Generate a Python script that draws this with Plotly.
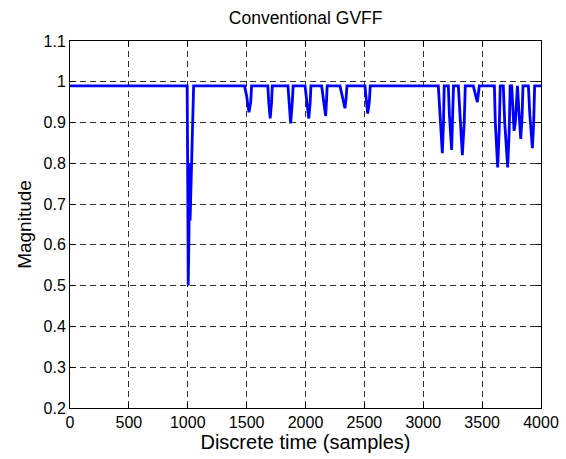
import plotly.graph_objects as go

# Forgetting-factor trace: breakpoints (sample index, magnitude)
samples = [
    0, 995, 1000, 1004, 1010, 1016, 1020, 1026, 1032, 1038, 1046, 1050,
    1482, 1500, 1520, 1535, 1542,
    1680, 1688, 1700, 1712, 1718,
    1851, 1860, 1874, 1888, 1895,
    1996, 2008, 2028, 2040, 2046,
    2137, 2150, 2171, 2178, 2184,
    2293, 2310, 2335, 2345, 2352,
    2505, 2515, 2528, 2542, 2550,
    3128, 3140, 3162, 3172, 3178,
    3213, 3222, 3241, 3250, 3257,
    3298, 3310, 3332, 3348, 3357,
    3425, 3440, 3459, 3468, 3476,
    3604, 3612, 3632, 3645, 3654,
    3680, 3692, 3717, 3730, 3738,
    3751, 3760, 3771, 3782, 3790, 3800, 3812, 3828, 3840, 3847,
    3893, 3905, 3927, 3938, 3946,
    4000,
]
magnitude = [
    0.99, 0.99, 0.75, 0.50, 0.62, 0.80, 0.66, 0.74, 0.78, 0.86, 0.97, 0.99,
    0.99, 0.965, 0.925, 0.95, 0.99,
    0.99, 0.95, 0.91, 0.95, 0.99,
    0.99, 0.95, 0.898, 0.95, 0.99,
    0.99, 0.96, 0.91, 0.95, 0.99,
    0.99, 0.96, 0.916, 0.95, 0.99,
    0.99, 0.97, 0.935, 0.96, 0.99,
    0.99, 0.96, 0.922, 0.95, 0.99,
    0.99, 0.93, 0.825, 0.90, 0.99,
    0.99, 0.92, 0.833, 0.90, 0.99,
    0.99, 0.92, 0.82, 0.90, 0.99,
    0.99, 0.97, 0.95, 0.97, 0.99,
    0.99, 0.90, 0.79, 0.88, 0.99,
    0.99, 0.90, 0.79, 0.88, 0.99,
    0.99, 0.93, 0.88, 0.90, 0.95, 0.99, 0.93, 0.86, 0.92, 0.99,
    0.99, 0.92, 0.837, 0.90, 0.99,
    0.99,
]

x_ticks = [0, 500, 1000, 1500, 2000, 2500, 3000, 3500, 4000]
y_ticks = [0.2, 0.3, 0.4, 0.5, 0.6, 0.7, 0.8, 0.9, 1.0, 1.1]
y_tick_text = ["0.2", "0.3", "0.4", "0.5", "0.6", "0.7", "0.8", "0.9", "1", "1.1"]

FONT = "Liberation Sans, Arial, sans-serif"

fig = go.Figure()
fig.add_trace(go.Scatter(
    x=samples, y=magnitude, mode="lines",
    line=dict(color="#0000ff", width=2.8),
    showlegend=False,
))

axis_common = dict(
    showline=True, linecolor="black", linewidth=1, mirror="ticks",
    ticks="inside", ticklen=5, tickcolor="black", tickwidth=1,
    showgrid=True, gridcolor="#303030", gridwidth=0.8, griddash="6px,4px",
    zeroline=False, automargin=False,
    tickfont=dict(family=FONT, size=16, color="black"),
)

fig.update_xaxes(
    range=[0, 4000], tickvals=x_ticks,
    title=dict(text="Discrete time (samples)", standoff=2,
               font=dict(family=FONT, size=20, color="black")),
    **axis_common,
)
fig.update_yaxes(
    range=[0.2, 1.1], tickvals=y_ticks, ticktext=y_tick_text,
    title=dict(text="Magnitude", standoff=6,
               font=dict(family=FONT, size=19, color="black")),
    **axis_common,
)

fig.update_layout(
    width=566, height=459,
    margin=dict(l=70, r=25, t=41, b=51),
    paper_bgcolor="white", plot_bgcolor="white",
    title=dict(text="Conventional GVFF", x=0.54, xanchor="center", y=0.962, yanchor="middle",
               font=dict(family=FONT, size=17.5, color="black")),
)

fig.write_html("out.html")
